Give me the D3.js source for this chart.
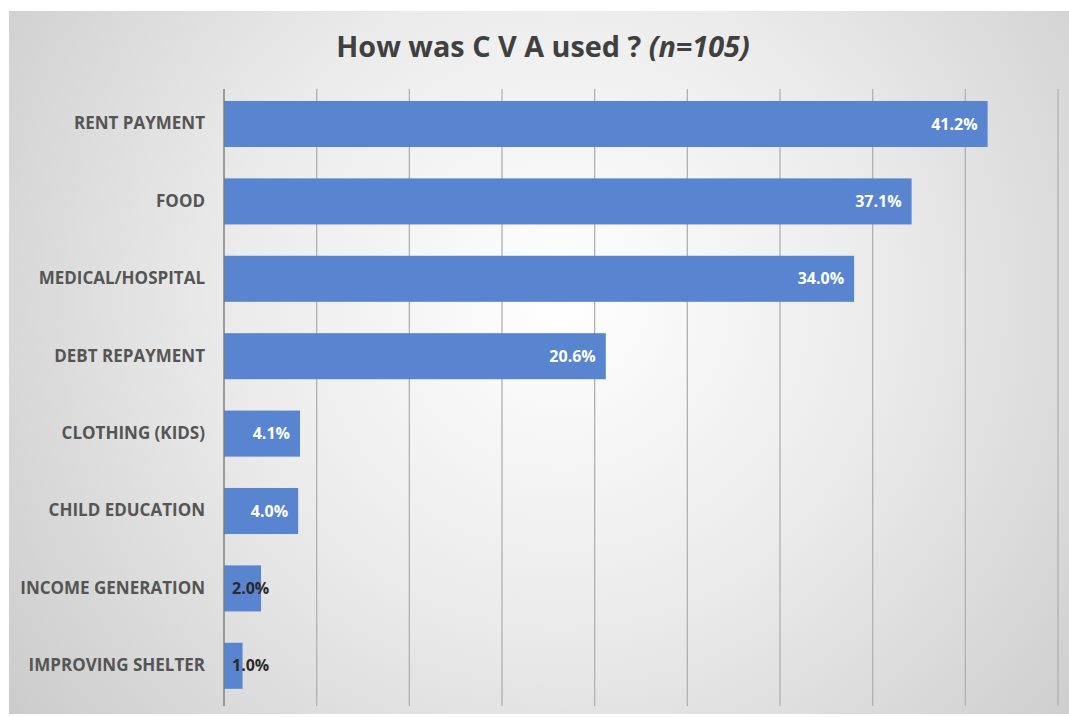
<!DOCTYPE html>
<html>
<head>
<meta charset="utf-8">
<script src="https://cdn.jsdelivr.net/npm/d3@7/dist/d3.min.js"></script>
<style>
  html, body { margin: 0; padding: 0; background: #fff; }
  svg { display: block; }
</style>
</head>
<body>
<svg id="chart" width="1069" height="717"></svg>
<script>
// Uses of the cash assistance, share of respondents (%)
const categories = [
  "RENT PAYMENT", "FOOD", "MEDICAL/HOSPITAL", "DEBT REPAYMENT",
  "CLOTHING (KIDS)", "CHILD EDUCATION", "INCOME GENERATION", "IMPROVING SHELTER"
];
const values = [41.2, 37.1, 34.0, 20.6, 4.1, 4.0, 2.0, 1.0];
const gridTicks = [0, 5, 10, 15, 20, 25, 30, 35, 40, 45];

const W = 1069, H = 717;
const svg = d3.select("#chart");
const defs = svg.append("defs");

// Soft radial background of the chart frame
const grad = defs.append("radialGradient")
  .attr("id", "bg").attr("gradientUnits", "userSpaceOnUse")
  .attr("cx", 560).attr("cy", 300).attr("r", 720);
grad.append("stop").attr("offset", "0%").attr("stop-color", "#ffffff");
grad.append("stop").attr("offset", "45%").attr("stop-color", "#ebebeb");
grad.append("stop").attr("offset", "100%").attr("stop-color", "#c9c9c9");

svg.append("rect").attr("x", 9).attr("y", 11).attr("width", W - 9).attr("height", 703)
  .attr("fill", "url(#bg)");

const x = d3.scaleLinear().domain([0, 45]).range([224, 1058]);
const y = d3.scaleBand().domain(categories).range([85.3, 704.5])
  .paddingInner(0.405).paddingOuter(0.2025);

// Vertical gridlines
svg.append("g").selectAll("line").data(gridTicks.slice(1)).join("line")
  .attr("x1", d => x(d)).attr("x2", d => x(d))
  .attr("y1", 89).attr("y2", 706)
  .attr("stroke", "#b0b0b0").attr("stroke-width", 1.3);

// Bars
svg.append("g").selectAll("rect").data(values).join("rect")
  .attr("x", x(0))
  .attr("y", (d, i) => y(categories[i]))
  .attr("width", d => x(d) - x(0))
  .attr("height", y.bandwidth())
  .attr("fill", "#5884d0");

// Category axis
const yAxis = svg.append("g").attr("transform", `translate(${x(0)},0)`)
  .call(d3.axisLeft(y).tickSize(0).tickPadding(19));
yAxis.select(".domain").remove();
yAxis.append("line").attr("x1", 0).attr("x2", 0).attr("y1", 89).attr("y2", 706)
  .attr("stroke", "#7a7a7a").attr("stroke-width", 1.4);
yAxis.selectAll("text")
  .attr("font-family", "'Open Sans', sans-serif")
  .attr("font-size", 17).attr("font-weight", 700)
  .attr("fill", "#555555");

// Value labels: inside the bar end, or from the base when the bar is too short
const labels = svg.append("g").selectAll("text").data(values).join("text")
  .attr("font-family", "'Open Sans', sans-serif")
  .attr("font-size", 16).attr("font-weight", 700)
  .attr("dy", "0.35em")
  .attr("y", (d, i) => y(categories[i]) + y.bandwidth() / 2)
  .text(d => d.toFixed(1) + "%");
labels.each(function(d) {
  const t = d3.select(this);
  const tw = this.getComputedTextLength();
  const bw = x(d) - x(0);
  if (bw >= tw + 20) {
    t.attr("x", x(d) - 10).attr("text-anchor", "end").attr("fill", "#ffffff");
  } else {
    t.attr("x", x(0) + 8).attr("text-anchor", "start").attr("fill", "#2a2a2a");
  }
});

// Title
const title = svg.append("text")
  .attr("x", 543).attr("y", 57).attr("text-anchor", "middle")
  .attr("font-family", "'Open Sans', sans-serif")
  .attr("font-size", 28.8).attr("font-weight", 700).attr("fill", "#404040");
title.append("tspan").text("How was C V A used ? ");
title.append("tspan").attr("font-style", "italic").text("(n=105)");
</script>
</body>
</html>
